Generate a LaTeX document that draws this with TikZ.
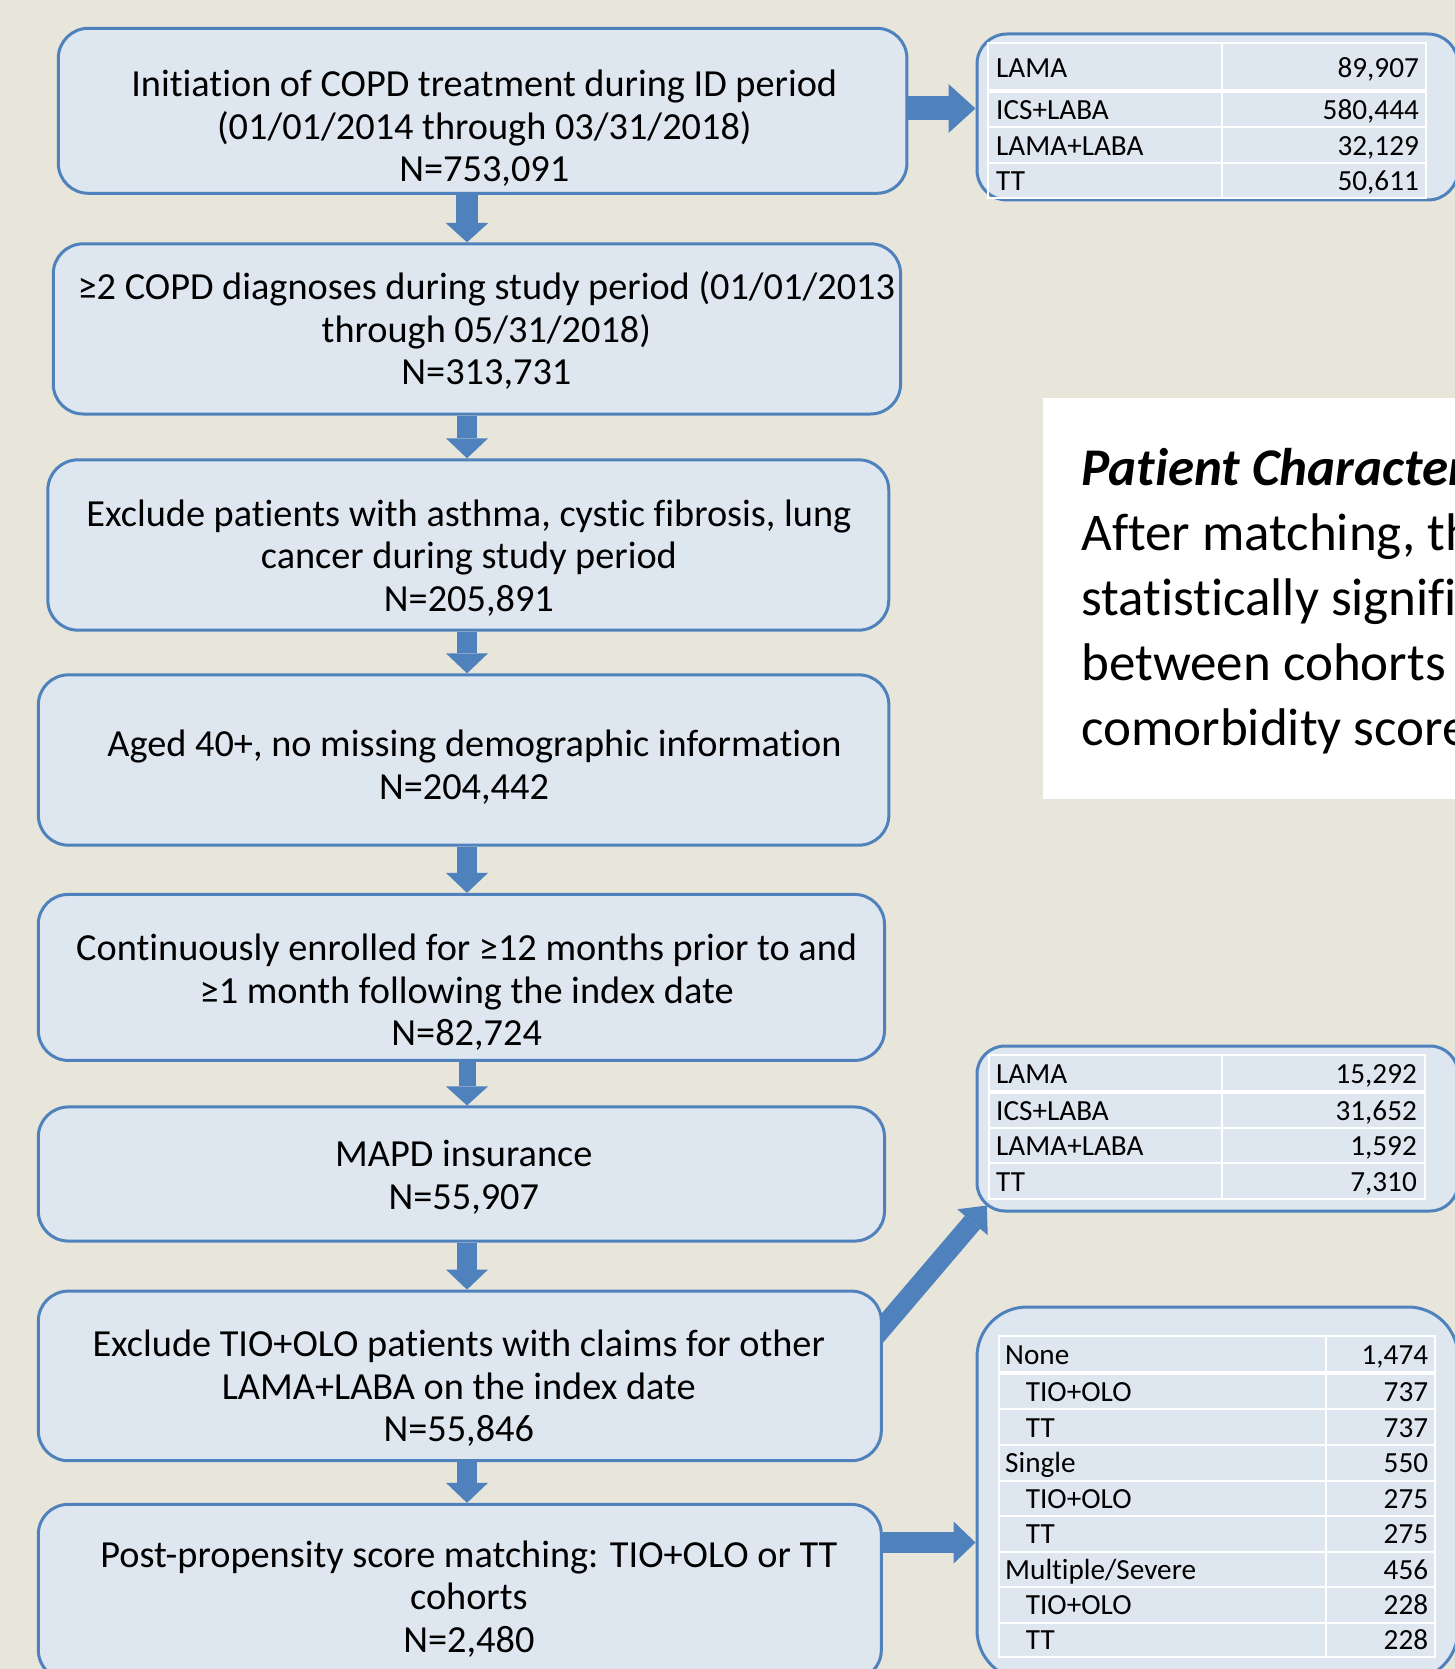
\documentclass[tikz,border=0pt]{standalone}
\usepackage{fontspec}
\setmainfont{Carlito}[Ligatures={CommonOff}]
\usetikzlibrary{arrows.meta,calc}
\definecolor{bgcol}{RGB}{232,230,218}
\definecolor{boxfill}{RGB}{222,230,239}
\definecolor{boxline}{RGB}{79,129,189}
\definecolor{arrowcol}{RGB}{79,129,189}
\pgfdeclarelayer{bglayer}
\pgfdeclarelayer{arrlayer}
\pgfsetlayers{bglayer,arrlayer,main}
\begin{document}
\begin{tikzpicture}[x=1pt,y=-1pt,
  flowbox/.style={draw=boxline, line width=3pt, fill=boxfill, rounded corners=30pt, inner sep=0pt},
  tablebox/.style={draw=boxline, line width=3pt, fill=boxfill, inner sep=0pt},
  maintext/.style={align=center, font=\fontsize{38.3pt}{42.6pt}\selectfont, inner sep=0pt},
  celltext/.style={font=\fontsize{29.2pt}{34pt}\selectfont, inner sep=0pt, text height=18.7pt, text depth=0pt},
  whitetext/.style={font=\fontsize{53pt}{64.8pt}\selectfont, inner sep=0pt, anchor=base west},
  gridthin/.style={draw=white, line width=1.8pt},
  gridthick/.style={draw=white, line width=4pt},
  fatarrow/.style n args={3}{draw=arrowcol, line width=#1, -{Triangle[width=#2,length=#3,line width=0pt]}},
]
\useasboundingbox (0,0) rectangle (1455,1669);
\begin{pgfonlayer}{bglayer}
  \fill[bgcol] (0,0) rectangle (1455,1669);
\end{pgfonlayer}

\begin{scope}
\clip (0,0) rectangle (1455,1669);
% main flow boxes
\node[flowbox, minimum width=848.6pt, minimum height=165pt] (b1) at (482.6,110.8) {};
\node[flowbox, minimum width=847.3pt, minimum height=170.2pt] (b2) at (476.9,328.9) {};
\node[flowbox, minimum width=840.9pt, minimum height=170.3pt] (b3) at (468.3,545) {};
\node[flowbox, minimum width=850.5pt, minimum height=170.3pt] (b4) at (463.6,760) {};
\node[flowbox, minimum width=846.2pt, minimum height=166pt] (b5) at (461.4,977.4) {};
\node[flowbox, minimum width=846.2pt, minimum height=134.1pt] (b6) at (461.4,1174) {};
\node[flowbox, minimum width=843pt, minimum height=169.6pt] (b7) at (459.8,1375.9) {};
\node[flowbox, minimum width=843pt, minimum height=175.7pt] (b8) at (459.8,1592.2) {};

\node[maintext] (t1) at (484.3,128.3) {Initiation of COPD treatment during ID period\\(01/01/2014 through 03/31/2018)\\N=753,091};
\node[maintext] (t2) at (486.4,330.5) {≥2 COPD diagnoses during study period (01/01/2013\\through 05/31/2018)\\N=313,731};
\node[maintext] (t3) at (468.9,558) {Exclude patients with asthma, cystic fibrosis, lung\\cancer during study period\\N=205,891};
\node[maintext] (t4) at (464,767.3) {\hspace*{21pt}Aged 40+, no missing demographic information\\N=204,442};
\node[maintext] (t5) at (466.7,992.5) {Continuously enrolled for ≥12 months prior to and\\≥1 month following the index date\\N=82,724};
\node[maintext] (t6) at (463.8,1177.1) {MAPD insurance\\N=55,907};
\node[maintext] (t7) at (458.8,1388.5) {Exclude TIO+OLO patients with claims for other\\LAMA+LABA on the index date\\N=55,846};
\node[maintext] (t8) at (468.9,1599) {Post-propensity score matching: TIO+OLO or TT\\cohorts\\N=2,480};

% white note box
\node[fill=white, inner sep=0pt, minimum width=426.7pt, minimum height=401pt] (note) at (1256.6,598.8) {};
\node[whitetext] (w1) at (1081.2,485.8) {\bfseries\itshape Patient Characteristics};
\node[whitetext] (w2) at (1081.2,550.4) {After matching, there};
\node[whitetext] (w3) at (1081.2,615.5) {statistically significant};
\node[whitetext] (w4) at (1081.2,680.2) {between cohorts in};
\node[whitetext] (w5) at (1081.2,745.1) {comorbidity scores};

% table box 1
\node[tablebox, rounded corners=30pt, minimum width=481pt, minimum height=166pt] (tab1) at (1217.5,117) {};
\draw[gridthin] (988,43.3) rectangle (1426,198.3);
\draw[gridthin] (1222,43.3) -- (1222,198.3);
\draw[gridthick] (988,91) -- (1426,91);
\draw[gridthin] (988,127.3) -- (1426,127.3);
\draw[gridthin] (988,162.7) -- (1426,162.7);
\node[celltext, anchor=west] (a1l) at (996,68) {LAMA};
\node[celltext, anchor=east] (a1r) at (1419,68) {89,907};
\node[celltext, anchor=west] (a2l) at (996,110) {ICS+LABA};
\node[celltext, anchor=east] (a2r) at (1419,110) {580,444};
\node[celltext, anchor=west] (a3l) at (996,146) {LAMA+LABA};
\node[celltext, anchor=east] (a3r) at (1419,146) {32,129};
\node[celltext, anchor=west] (a4l) at (996,181.3) {TT};
\node[celltext, anchor=east] (a4r) at (1419,181.3) {50,611};

% table box 2
\node[tablebox, rounded corners=28pt, minimum width=481pt, minimum height=165pt] (tab2) at (1217.5,1128.5) {};
\draw[gridthin] (989,1055) rectangle (1425,1199);
\draw[gridthin] (1222,1055) -- (1222,1199);
\draw[gridthick] (989,1092.3) -- (1425,1092.3);
\draw[gridthin] (989,1128.3) -- (1425,1128.3);
\draw[gridthin] (989,1163.3) -- (1425,1163.3);
\node[celltext, anchor=west] (m1l) at (996,1074.4) {LAMA};
\node[celltext, anchor=east] (m1r) at (1417,1074.4) {15,292};
\node[celltext, anchor=west] (m2l) at (996,1111) {ICS+LABA};
\node[celltext, anchor=east] (m2r) at (1417,1111) {31,652};
\node[celltext, anchor=west] (m3l) at (996,1146.5) {LAMA+LABA};
\node[celltext, anchor=east] (m3r) at (1417,1146.5) {1,592};
\node[celltext, anchor=west] (m4l) at (996,1182) {TT};
\node[celltext, anchor=east] (m4r) at (1417,1182) {7,310};

% table box 3
\node[tablebox, rounded corners=50pt, minimum width=481pt, minimum height=373pt] (tab3) at (1217.5,1493.5) {};
\draw[gridthin] (999,1336) rectangle (1435,1657.3);
\draw[gridthin] (1326,1336) -- (1326,1657.3);
\draw[gridthick] (999,1373.3) -- (1435,1373.3);
\foreach \yy in {1409.3,1445,1480.7,1516,1551.7,1587.3,1622.7}
  \draw[gridthin] (999,\yy) -- (1435,\yy);
\node[celltext, anchor=west] (c1l) at (1005,1355.3) {None};
\node[celltext, anchor=east] (c1r) at (1428.3,1355.3) {1,474};
\node[celltext, anchor=west] (c2l) at (1025.7,1391.8) {TIO+OLO};
\node[celltext, anchor=east] (c2r) at (1428.3,1391.8) {737};
\node[celltext, anchor=west] (c3l) at (1025.7,1427.7) {TT};
\node[celltext, anchor=east] (c3r) at (1428.3,1427.7) {737};
\node[celltext, anchor=west] (c4l) at (1005,1463.4) {Single};
\node[celltext, anchor=east] (c4r) at (1428.3,1463.4) {550};
\node[celltext, anchor=west] (c5l) at (1025.7,1498.9) {TIO+OLO};
\node[celltext, anchor=east] (c5r) at (1428.3,1498.9) {275};
\node[celltext, anchor=west] (c6l) at (1025.7,1534.4) {TT};
\node[celltext, anchor=east] (c6r) at (1428.3,1534.4) {275};
\node[celltext, anchor=west] (c7l) at (1005,1570) {Multiple/Severe};
\node[celltext, anchor=east] (c7r) at (1428.3,1570) {456};
\node[celltext, anchor=west] (c8l) at (1025.7,1605.5) {TIO+OLO};
\node[celltext, anchor=east] (c8r) at (1428.3,1605.5) {228};
\node[celltext, anchor=west] (c9l) at (1025.7,1640.5) {TT};
\node[celltext, anchor=east] (c9r) at (1428.3,1640.5) {228};
\end{scope}

% connectors
\coordinate (ax) at (467,0);
\coordinate (ha) at (0,108.5);
\coordinate (hb) at (0,1542.5);
\coordinate (dtail) at ($(b7.east |- 0,1327.5)$);
\coordinate (dtip) at ($(tab2.south west)+(11.3,-7)$);
\begin{pgfonlayer}{arrlayer}
\draw[fatarrow={22pt}{43pt}{19.5pt}] (b1.south -| ax) -- (b2.north -| ax);
\draw[fatarrow={20pt}{42pt}{20pt}] (b2.south -| ax) -- (b3.north -| ax);
\draw[fatarrow={20pt}{42pt}{20pt}] (b3.south -| ax) -- (b4.north -| ax);
\draw[fatarrow={20pt}{42pt}{20pt}] (b4.south -| ax) -- (b5.north -| ax);
\draw[fatarrow={17pt}{42pt}{19pt}] (b5.south -| ax) -- (b6.north -| ax);
\draw[fatarrow={20pt}{42pt}{20pt}] (b6.south -| ax) -- (b7.north -| ax);
\draw[fatarrow={20pt}{42pt}{20pt}] (b7.south -| ax) -- (b8.north -| ax);
\draw[fatarrow={24pt}{49pt}{27pt}] (b1.east |- ha) -- (tab1.west |- ha);
\draw[fatarrow={21.6pt}{42.3pt}{22pt}] (b8.east |- hb) -- (tab3.west |- hb);
\draw[fatarrow={20pt}{40pt}{22pt}] ($(dtail)!-20pt!(dtip)$) -- (dtip);
\end{pgfonlayer}
\end{tikzpicture}
\end{document}
